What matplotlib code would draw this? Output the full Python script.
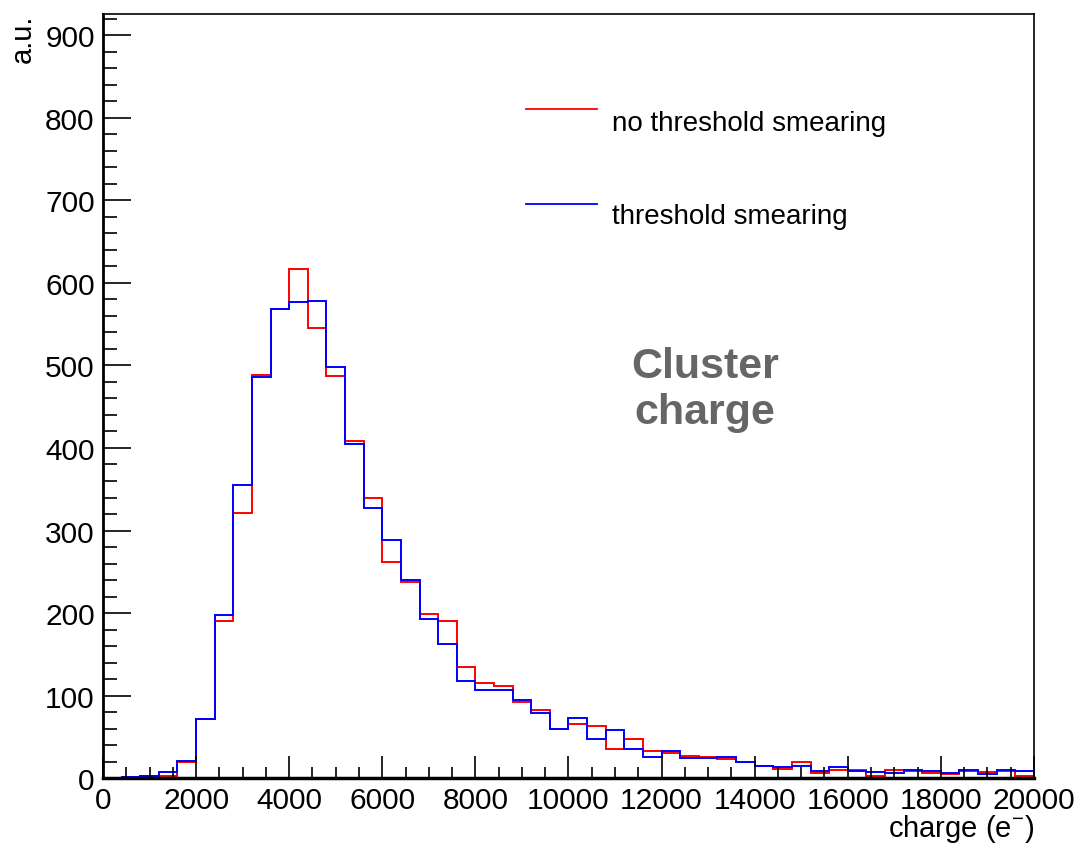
import numpy as np
import matplotlib
matplotlib.use("Agg")
import matplotlib.pyplot as plt
from matplotlib.ticker import MultipleLocator

plt.rcParams['font.family'] = ['Liberation Sans', 'DejaVu Sans']
plt.rcParams['mathtext.fontset'] = 'custom'
plt.rcParams['mathtext.rm'] = 'Liberation Sans'
plt.rcParams['mathtext.it'] = 'Liberation Sans'

# Histogram definition: 50 bins of 400 e- from 0 to 20000
bin_lo = 0
bin_hi = 20000
n_bins = 50

no_smear = [0, 1, 2, 3, 20, 71, 190, 321, 489, 568,
            617, 545, 487, 408, 339, 262, 237, 199, 190, 135,
            115, 111, 92, 82, 59, 66, 63, 35, 47, 33,
            30, 27, 25, 23, 20, 14, 11, 19, 6, 10,
            10, 2, 10, 9, 6, 5, 9, 7, 9, 3]
smear = [0, 1, 3, 7, 21, 71, 197, 355, 486, 568,
         577, 578, 498, 405, 327, 288, 240, 193, 163, 118,
         107, 107, 95, 79, 59, 73, 47, 58, 35, 25,
         33, 24, 24, 25, 20, 15, 13, 15, 9, 13,
         8, 7, 6, 10, 9, 6, 10, 5, 10, 8]

labels = ["no threshold smearing", "threshold smearing"]
colors = ["#ff0000", "#0000ff"]

edges = np.linspace(bin_lo, bin_hi, n_bins + 1)

fig = plt.figure(figsize=(10.82, 8.45), dpi=100)
ax = fig.add_axes([0.0952, 0.0781, 0.8604, 0.9041])

ax.stairs(no_smear, edges, color=colors[0], lw=1.4, baseline=None)
ax.stairs(smear, edges, color=colors[1], lw=1.4, baseline=None)

ax.set_xlim(0, 20000)
ax.set_ylim(0, 926)

ax.xaxis.set_major_locator(MultipleLocator(2000))
ax.xaxis.set_minor_locator(MultipleLocator(500))
ax.yaxis.set_major_locator(MultipleLocator(100))
ax.yaxis.set_minor_locator(MultipleLocator(20))

ax.tick_params(axis='x', which='major', direction='in', length=16, width=1.2,
               labelsize=21.5, pad=6, top=False)
ax.tick_params(axis='x', which='minor', direction='in', length=8, width=1.2, top=False)
ax.tick_params(axis='y', which='major', direction='in', length=20, width=1.2,
               labelsize=21.5, pad=6, right=False)
ax.tick_params(axis='y', which='minor', direction='in', length=10, width=1.2, right=False)

for s in ax.spines.values():
    s.set_linewidth(1.2)
ax.spines['left'].set_linewidth(2)
ax.spines['bottom'].set_linewidth(2.5)

ax.set_xlabel(r"charge (e$^{-}$)", fontsize=21, ha='right', va='top')
ax.xaxis.set_label_coords(1.0, -0.045)
ax.set_ylabel("a.u.", fontsize=21, ha='right', y=1.0, labelpad=6)

# legend drawn manually (ROOT style)
leg_line_y = [0.8757, 0.7513]
leg_text_y = [0.8573, 0.7356]
for lab, col, ly, ty in zip(labels, colors, leg_line_y, leg_text_y):
    ax.plot([0.4544, 0.5306], [ly, ly], color=col, lw=1.3, transform=ax.transAxes)
    ax.text(0.5467, ty, lab, transform=ax.transAxes, fontsize=20,
            va='center', ha='left')

ax.text(0.6466, 0.5249, "Cluster", transform=ax.transAxes, fontsize=31,
        fontweight='bold', color='#666666', ha='center', va='baseline')
ax.text(0.6466, 0.4647, "charge", transform=ax.transAxes, fontsize=31,
        fontweight='bold', color='#666666', ha='center', va='baseline')

fig.savefig("out.png", dpi=100)
